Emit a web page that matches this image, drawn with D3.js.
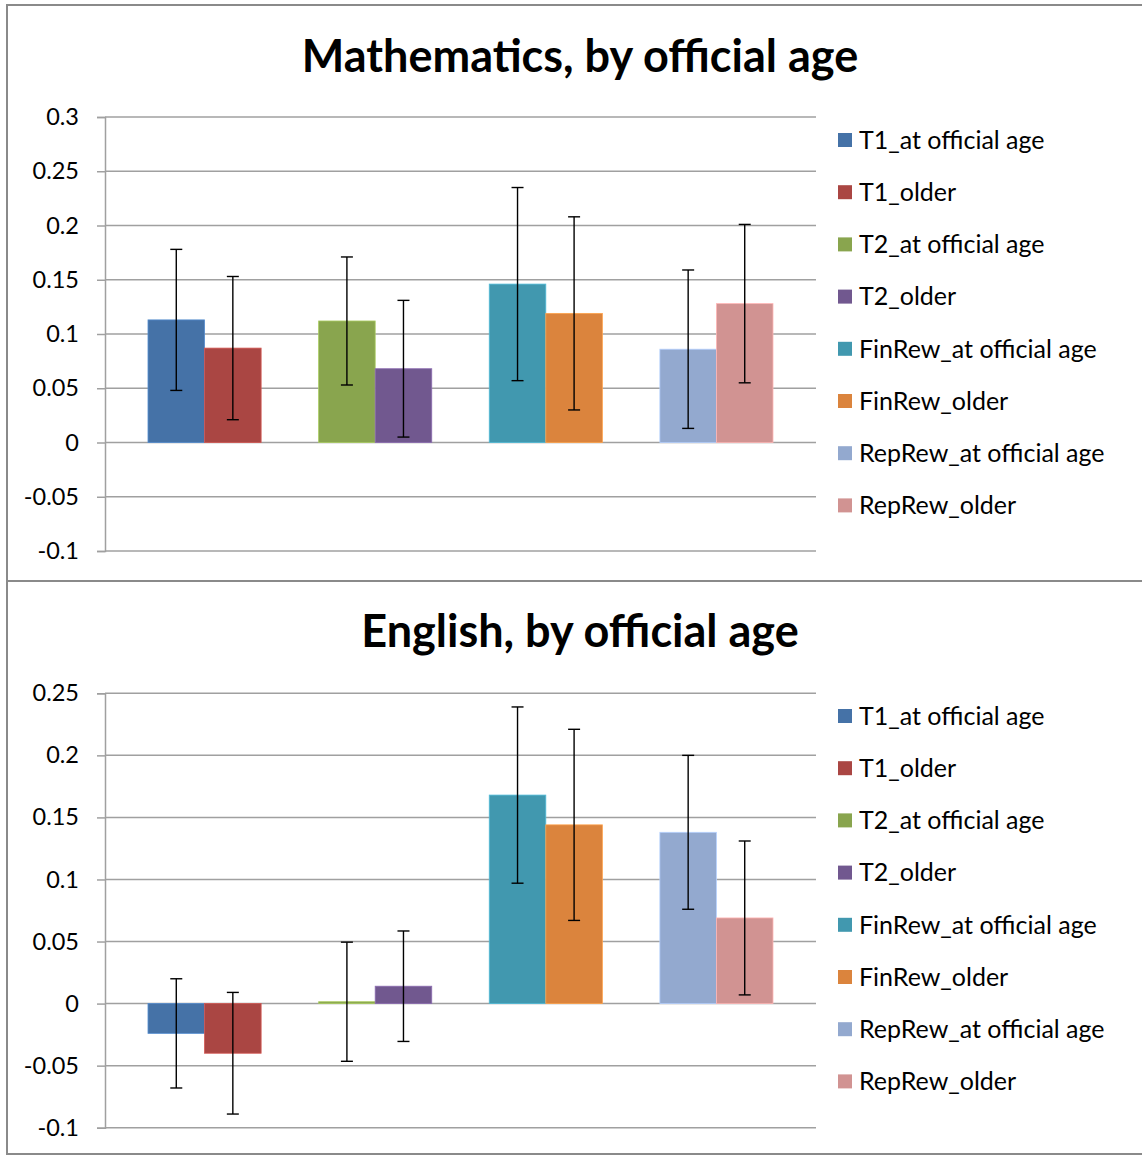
<!DOCTYPE html>
<html>
<head>
<meta charset="utf-8">
<script src="https://cdn.jsdelivr.net/npm/d3@7"></script>
<style>
  html, body { margin: 0; padding: 0; background: #fff; }
  svg { display: block; }
  text { font-family: "Lato", "Open Sans", sans-serif; fill: #000; }
</style>
</head>
<body>
<svg id="chart" width="1142" height="1156"></svg>
<script>
// ---- Data ----
const groups = ["T1", "T2", "FinRew", "RepRew"];
const subgroups = ["at official age", "older"];
const seriesNames = [
  "T1_at official age", "T1_older",
  "T2_at official age", "T2_older",
  "FinRew_at official age", "FinRew_older",
  "RepRew_at official age", "RepRew_older"
];
const seriesColors = ["#4572A7", "#AA4643", "#89A54E", "#71588F",
                      "#4198AF", "#DB843D", "#93A9CF", "#D19392"];

const mathValues = [0.113, 0.087, 0.112, 0.068, 0.146, 0.119, 0.086, 0.128];
const mathErrors = [0.065, 0.066, 0.059, 0.063, 0.089, 0.089, 0.073, 0.073];
const mathTicks = [0.3, 0.25, 0.2, 0.15, 0.1, 0.05, 0, -0.05, -0.1];

const engValues = [-0.024, -0.040, 0.0015, 0.014, 0.168, 0.144, 0.138, 0.069];
const engErrors = [0.044, 0.049, 0.048, 0.0445, 0.071, 0.077, 0.062, 0.062];
const engTicks = [0.25, 0.2, 0.15, 0.1, 0.05, 0, -0.05, -0.1];

const svg = d3.select("#chart");

// Frames
svg.append("rect").attr("x", 7).attr("y", 5).attr("width", 1150).attr("height", 576)
  .attr("fill", "none").attr("stroke", "#8a8a8a").attr("stroke-width", 2);
svg.append("rect").attr("x", 7).attr("y", 581).attr("width", 1150).attr("height", 573)
  .attr("fill", "none").attr("stroke", "#8a8a8a").attr("stroke-width", 2);

function drawChart(cfg) {
  const g = svg.append("g");
  const x0 = d3.scaleBand().domain(groups).range([105, 816])
    .paddingInner(0.337).paddingOuter(0.252);
  const x1 = d3.scaleBand().domain(subgroups).range([0, x0.bandwidth()]);
  const y = d3.scaleLinear().domain(cfg.domain).range(cfg.range);

  // title
  g.append("text").attr("x", 580).attr("y", cfg.titleY)
    .attr("text-anchor", "middle").attr("font-weight", "bold")
    .attr("font-size", 45).text(cfg.title);

  // gridlines
  g.selectAll(".grid").data(cfg.ticks).join("line")
    .attr("x1", 105).attr("x2", 816)
    .attr("y1", d => y(d)).attr("y2", d => y(d))
    .attr("stroke", "#a0a0a0").attr("stroke-width", 1.5);

  // y axis
  const axis = d3.axisLeft(y).tickValues(cfg.ticks).tickSize(8).tickPadding(18)
    .tickFormat(d => String(+d.toFixed(2)));
  const ag = g.append("g").attr("transform", "translate(105,0)").call(axis);
  ag.select(".domain").attr("stroke", "#a0a0a0").attr("stroke-width", 1.5);
  ag.selectAll(".tick line").attr("stroke", "#a0a0a0").attr("stroke-width", 1.5);
  ag.selectAll(".tick text").attr("font-size", 23.5).attr("fill", "#111")
    .style("font-family", "Lato, sans-serif");

  // bars
  const data = seriesNames.map((n, i) => ({
    name: n, group: groups[Math.floor(i / 2)], sub: subgroups[i % 2],
    value: cfg.values[i], err: cfg.errors[i], color: seriesColors[i]
  }));
  const bx = d => x0(d.group) + x1(d.sub);
  g.selectAll(".bar").data(data).join("rect")
    .attr("x", bx).attr("width", x1.bandwidth())
    .attr("y", d => Math.min(y(d.value), y(0)))
    .attr("height", d => Math.max(Math.abs(y(d.value) - y(0)), 1.5))
    .attr("fill", d => d.color)
    .attr("stroke", d => d3.color(d.color).brighter(0.6)).attr("stroke-width", 0.8);

  // error bars
  const cx = d => bx(d) + x1.bandwidth() / 2;
  const eg = g.selectAll(".err").data(data).join("g");
  eg.append("line").attr("x1", cx).attr("x2", cx)
    .attr("y1", d => y(d.value + d.err)).attr("y2", d => y(d.value - d.err))
    .attr("stroke", "#000").attr("stroke-width", 1.4);
  eg.append("line").attr("x1", d => cx(d) - 6).attr("x2", d => cx(d) + 6)
    .attr("y1", d => y(d.value + d.err)).attr("y2", d => y(d.value + d.err))
    .attr("stroke", "#000").attr("stroke-width", 1.4);
  eg.append("line").attr("x1", d => cx(d) - 6).attr("x2", d => cx(d) + 6)
    .attr("y1", d => y(d.value - d.err)).attr("y2", d => y(d.value - d.err))
    .attr("stroke", "#000").attr("stroke-width", 1.4);

  // legend
  const lg = g.selectAll(".leg").data(data).join("g")
    .attr("transform", (d, i) => `translate(838,${cfg.legendY + i * 52.2})`);
  lg.append("rect").attr("x", 0).attr("y", -7).attr("width", 14).attr("height", 14)
    .attr("fill", d => d.color);
  lg.append("text").attr("x", 21).attr("y", 0).attr("dy", "0.35em")
    .attr("font-size", 25).text(d => d.name);
}

drawChart({
  title: "Mathematics, by official age", titleY: 72,
  domain: [-0.1, 0.3], range: [551, 117], ticks: mathTicks,
  values: mathValues, errors: mathErrors, legendY: 140
});
drawChart({
  title: "English, by official age", titleY: 647,
  domain: [-0.1, 0.25], range: [1127.7, 693.3], ticks: engTicks,
  values: engValues, errors: engErrors, legendY: 716
});
</script>
</body>
</html>
